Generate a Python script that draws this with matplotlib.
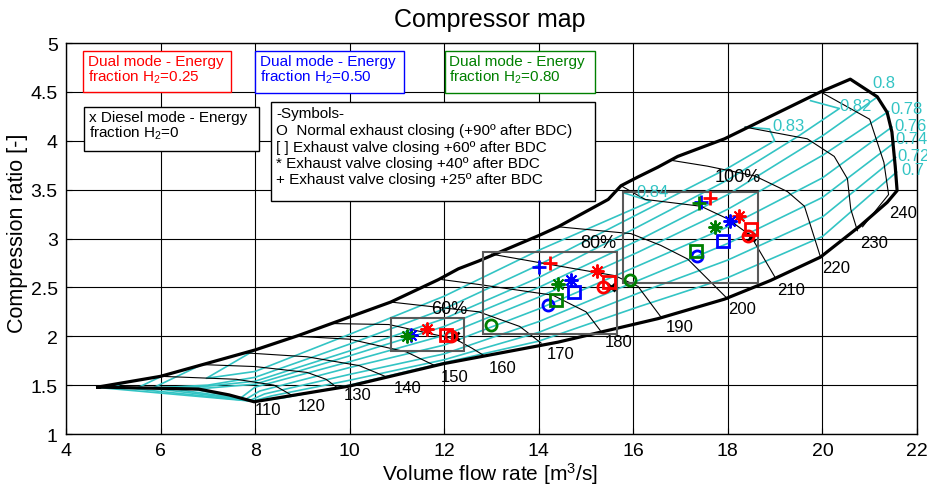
import matplotlib
matplotlib.use("Agg")
import matplotlib.pyplot as plt
from matplotlib.patches import Rectangle

plt.rcParams["font.family"] = ["Liberation Sans", "DejaVu Sans"]

# outer map boundary: surge line, right edge, choke line, then the 110 line back to the tip
border_x = [4.67, 6.0, 8.0, 8.93, 10.87, 11.88, 12.3, 12.73, 14.0, 14.41, 15.47, 15.74,
            16.1, 16.52, 16.94, 17.93, 19.96, 20.59, 21.16, 21.37, 21.47, 21.54, 21.58,
            21.37, 20.8, 19.96, 18.9, 17.93, 16.52, 14.41, 11.99, 9.99, 7.98,
            7.45, 6.8, 4.67]
border_y = [1.48, 1.59, 1.86, 2.01, 2.35, 2.58, 2.69, 2.77, 3.03, 3.12, 3.40, 3.54,
            3.63, 3.73, 3.84, 4.02, 4.50, 4.63, 4.45, 4.29, 4.09, 3.74, 3.49,
            3.37, 3.13, 2.81, 2.57, 2.38, 2.18, 1.94, 1.72, 1.49, 1.33,
            1.40, 1.46, 1.48]

# speed lines [m/s]
speeds = [110, 120, 130, 140, 150, 160, 170, 180, 190, 200, 210, 220, 230, 240]
speed_x = [
    [4.67, 6.8, 7.45, 8.0],
    [6.02, 7.6, 8.4, 8.8],
    [6.9, 8.0, 9.1, 9.5, 9.75],
    [7.8, 9.1, 10.2, 10.8],
    [8.87, 10.0, 11.2, 11.8],
    [9.63, 10.83, 12.24, 12.58, 12.85],
    [10.87, 12.73, 13.6, 14.05],
    [11.95, 12.73, 14.3, 15.0, 15.3],
    [13.0, 14.41, 15.61, 16.1, 16.58],
    [14.41, 15.95, 16.58, 17.15, 18.0],
    [15.74, 16.25, 17.43, 18.0, 18.48, 18.99],
    [16.8, 17.57, 18.57, 19.26, 19.62, 19.96],
    [18.36, 19.68, 20.25, 20.53, 20.6, 20.74],
    [19.96, 21.0, 21.3, 21.4, 20.85],
]
speed_y = [
    [1.48, 1.46, 1.40, 1.33],
    [1.59, 1.56, 1.50, 1.39],
    [1.71, 1.69, 1.63, 1.56, 1.47],
    [1.83, 1.79, 1.70, 1.58],
    [2.00, 1.97, 1.84, 1.70],
    [2.13, 2.12, 1.97, 1.88, 1.80],
    [2.35, 2.25, 2.10, 1.93],
    [2.58, 2.53, 2.42, 2.25, 2.06],
    [2.84, 2.72, 2.62, 2.51, 2.20],
    [3.12, 3.05, 2.93, 2.79, 2.38],
    [3.54, 3.40, 3.33, 3.20, 3.03, 2.61],
    [3.80, 3.74, 3.64, 3.48, 3.33, 2.81],
    [4.14, 4.02, 3.84, 3.61, 3.30, 3.08],
    [4.50, 4.22, 3.78, 3.45, 3.12],
]
speed_lbl_x = [8.0, 8.9, 9.88, 10.94, 11.93, 12.94, 14.16, 15.4, 16.69, 18.0, 19.05, 20.0, 20.8, 21.41]
speed_lbl_y = [1.25, 1.29, 1.40, 1.48, 1.59, 1.68, 1.82, 1.95, 2.10, 2.28, 2.48, 2.70, 2.96, 3.27]

# isentropic efficiency contours
eff_levels = ["0.84", "0.83", "0.82", "0.8", "0.78", "0.76", "0.74", "0.72", "0.7"]
eff_x = [
    [8.0, 6.97, 8.0, 10.0, 12.0, 14.0, 16.37, 15.78],
    [6.83, 5.83, 7.0, 8.0, 10.0, 12.0, 14.0, 16.1, 18.0, 18.99, 18.88, 18.38],
    [6.02, 5.5, 7.0, 8.0, 10.0, 12.0, 14.0, 16.1, 18.0, 19.5, 20.36, 19.75],
    [5.25, 4.95, 7.0, 8.0, 10.0, 12.0, 14.0, 16.1, 18.0, 20.0, 21.17, 20.59],
    [6.6, 7.7, 8.0, 10.0, 12.0, 14.0, 16.1, 18.0, 20.0, 21.4],
    [6.2, 7.8, 8.1, 10.0, 12.0, 14.0, 16.1, 18.0, 20.0, 21.47],
    [5.8, 7.9, 8.2, 10.0, 12.0, 14.0, 16.1, 18.0, 20.0, 21.52],
    [5.3, 7.95, 8.35, 10.0, 12.0, 14.0, 16.1, 18.0, 20.0, 21.55],
    [4.7, 8.0, 8.6, 10.0, 12.0, 14.0, 16.1, 18.0, 20.0, 21.57],
]
eff_y = [
    [1.86, 1.57, 1.64, 2.02, 2.41, 2.88, 3.38, 3.47],
    [1.70, 1.47, 1.50, 1.58, 1.92, 2.28, 2.73, 3.25, 3.72, 4.00, 4.12, 4.14],
    [1.59, 1.47, 1.49, 1.54, 1.85, 2.18, 2.60, 3.12, 3.60, 4.05, 4.33, 4.41],
    [1.53, 1.47, 1.47, 1.51, 1.80, 2.10, 2.50, 2.98, 3.45, 4.05, 4.45, 4.63],
    [1.465, 1.37, 1.48, 1.74, 2.01, 2.40, 2.86, 3.30, 3.85, 4.30],
    [1.465, 1.355, 1.44, 1.68, 1.91, 2.28, 2.72, 3.12, 3.62, 4.14],
    [1.47, 1.345, 1.41, 1.61, 1.82, 2.15, 2.57, 2.95, 3.42, 3.98],
    [1.47, 1.337, 1.39, 1.55, 1.76, 2.04, 2.44, 2.78, 3.22, 3.83],
    [1.475, 1.333, 1.37, 1.50, 1.73, 1.95, 2.30, 2.60, 3.02, 3.68],
]
eff_lbl_x = [16.06, 18.95, 20.36, 21.05, 21.43, 21.52, 21.54, 21.58, 21.68]
eff_lbl_y = [3.48, 4.16, 4.36, 4.60, 4.33, 4.16, 4.02, 3.85, 3.71]

# operating points at 60 / 80 / 100 % load
red_o_x, red_o_y = [12.14, 15.36, 18.42], [2.00, 2.50, 3.03]
red_s_x, red_s_y = [12.03, 15.49, 18.48], [2.01, 2.56, 3.10]
red_a_x, red_a_y = [11.63, 15.24, 18.23], [2.07, 2.67, 3.23]
red_p_x, red_p_y = [14.24, 17.62], [2.75, 3.41]
blue_o_x, blue_o_y = [14.20, 17.34], [2.32, 2.82]
blue_s_x, blue_s_y = [14.75, 17.89], [2.45, 2.97]
blue_a_x, blue_a_y = [11.29, 14.69, 18.04], [2.01, 2.58, 3.18]
blue_p_x, blue_p_y = [14.01, 17.43], [2.71, 3.37]
green_o_x, green_o_y = [12.98, 15.93], [2.12, 2.58]
green_s_x, green_s_y = [14.37, 17.32], [2.37, 2.87]
green_a_x, green_a_y = [11.21, 14.41, 17.72], [2.00, 2.53, 3.12]
green_p_x, green_p_y = [17.38], [3.36]
diesel_x, diesel_y = [12.22, 15.53, 18.50], [2.00, 2.50, 3.02]

load_names = ["60%", "80%", "100%"]
load_lbl_x = [12.1, 15.26, 18.2]
load_lbl_y = [2.28, 2.96, 3.63]
load_box = [(10.87, 1.85, 1.54, 0.34), (12.83, 2.02, 2.83, 0.84), (15.78, 2.54, 2.85, 0.94)]

RED, BLUE, GREEN, CYAN = "#ff0000", "#0000ff", "#008000", "#33c4c4"

fig = plt.figure(figsize=(9.28, 4.89), dpi=100)
ax = fig.add_axes([0.0711, 0.1104, 0.9170, 0.7996])
ax.set_xlim(4, 22)
ax.set_ylim(1, 5)
ax.set_xticks(range(4, 23, 2))
ax.set_yticks([1, 1.5, 2, 2.5, 3, 3.5, 4, 4.5, 5])
ax.set_yticklabels(["1", "1.5", "2", "2.5", "3", "3.5", "4", "4.5", "5"])
ax.tick_params(direction="in", length=4, labelsize=14, pad=6)
ax.grid(True, color="k", lw=0.8)
ax.set_axisbelow(True)
for s in ax.spines.values():
    s.set_linewidth(1.0)

for xs, ys in zip(eff_x, eff_y):
    ax.plot(xs, ys, color=CYAN, lw=1.2, zorder=2)
for xs, ys in zip(speed_x, speed_y):
    ax.plot(xs, ys, color="k", lw=0.8, zorder=3)
ax.plot(border_x, border_y, color="k", lw=2.3, zorder=4, solid_joinstyle="round")

for sp, lx, ly in zip(speeds, speed_lbl_x, speed_lbl_y):
    ax.text(lx, ly, str(sp), fontsize=12, ha="left", va="center", zorder=5)
for lv, lx, ly in zip(eff_levels, eff_lbl_x, eff_lbl_y):
    ax.text(lx, ly, lv, fontsize=12, color=CYAN, ha="left", va="center",
            zorder=5, clip_on=False)

for (bx, by, bw, bh), name, lx, ly in zip(load_box, load_names, load_lbl_x, load_lbl_y):
    ax.add_patch(Rectangle((bx, by), bw, bh, fill=False, ec="0.35", lw=1.5, zorder=4))
    ax.text(lx, ly, name, fontsize=13, ha="center", va="center", zorder=5)

asterisk = (8, 2, 0)
mk = dict(ls="none", mew=2, ms=8, mfc="none", zorder=6)
ak = {**mk, "mew": 1.4, "ms": 10}
pk = {**mk, "ms": 10}
ax.plot(diesel_x, diesel_y, marker="x", color="k", **{**mk, "ms": 6})
ax.plot(red_o_x, red_o_y, marker="o", color=RED, **mk)
ax.plot(red_s_x, red_s_y, marker="s", color=RED, **mk)
ax.plot(red_a_x, red_a_y, marker=asterisk, color=RED, **ak)
ax.plot(red_p_x, red_p_y, marker="+", color=RED, **pk)
ax.plot(blue_o_x, blue_o_y, marker="o", color=BLUE, **mk)
ax.plot(blue_s_x, blue_s_y, marker="s", color=BLUE, **mk)
ax.plot(blue_a_x, blue_a_y, marker=asterisk, color=BLUE, **ak)
ax.plot(blue_p_x, blue_p_y, marker="+", color=BLUE, **pk)
ax.plot(green_o_x, green_o_y, marker="o", color=GREEN, **mk)
ax.plot(green_s_x, green_s_y, marker="s", color=GREEN, **mk)
ax.plot(green_a_x, green_a_y, marker=asterisk, color=GREEN, **ak)
ax.plot(green_p_x, green_p_y, marker="+", color=GREEN, **pk)


def note(x0, y0, x1, y1, lines, color, ys):
    ax.add_patch(Rectangle((x0, y1), x1 - x0, y0 - y1, fc="white", ec=color,
                           lw=1.0, zorder=7))
    for txt, ty in zip(lines, ys):
        ax.text(x0 + 0.1, ty, txt, color=color, fontsize=11, ha="left",
                va="center", zorder=8)


note(4.36, 4.918, 7.50, 4.499, ["Dual mode - Energy", r"fraction H$\mathregular{_2}$=0.25"],
     RED, [4.815, 4.66])
note(8.005, 4.918, 11.15, 4.488, ["Dual mode - Energy", r"fraction H$\mathregular{_2}$=0.50"],
     BLUE, [4.815, 4.66])
note(12.01, 4.918, 15.19, 4.488, ["Dual mode - Energy", r"fraction H$\mathregular{_2}$=0.80"],
     GREEN, [4.815, 4.66])
note(4.38, 4.345, 8.09, 3.895, ["x Diesel mode - Energy", r"fraction H$\mathregular{_2}$=0"],
     "k", [4.24, 4.09])
note(8.34, 4.396, 15.19, 3.384,
     ["-Symbols-",
      "O  Normal exhaust closing (+90º after BDC)",
      "[ ] Exhaust valve closing +60º after BDC",
      "* Exhaust valve closing +40º after BDC",
      "+ Exhaust valve closing +25º after BDC"],
     "k", [4.28, 4.11, 3.94, 3.77, 3.605])

fig.text(490 / 928, 1 - 20 / 489, "Compressor map", fontsize=18, ha="center", va="center")
fig.text(490 / 928, 1 - 474 / 489, r"Volume flow rate [m$\mathregular{^3}$/s]", fontsize=15,
         ha="center", va="center")
fig.text(18 / 928, 1 - 233 / 489, "Compression ratio [-]", fontsize=15.5, rotation=90,
         ha="center", va="center")

fig.savefig("out.png", dpi=100)
